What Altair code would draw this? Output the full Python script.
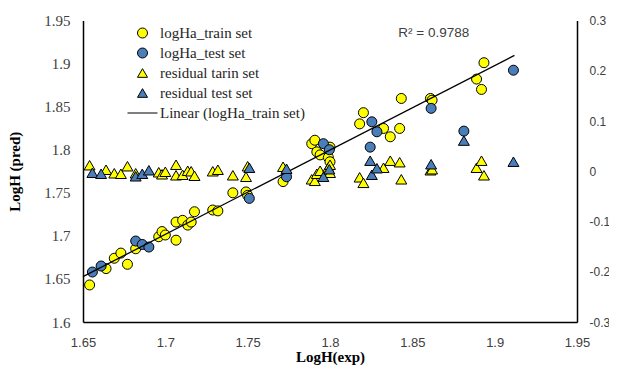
import altair as alt
import pandas as pd

# ---- data ----
train_x = [1.654, 1.664, 1.669, 1.673, 1.677, 1.682, 1.696, 1.698, 1.700, 1.7065,
           1.7065, 1.7105, 1.7136, 1.7157, 1.7177, 1.7288, 1.7319, 1.741, 1.749, 1.750,
           1.7715, 1.7889, 1.7908, 1.792, 1.794, 1.799, 1.800, 1.800, 1.818, 1.8203,
           1.8325, 1.8366, 1.8423, 1.8433, 1.861, 1.862, 1.889, 1.892, 1.8935]
train_pred = [1.643, 1.662, 1.674, 1.680, 1.667, 1.685, 1.699, 1.705, 1.701, 1.695,
              1.716, 1.718, 1.7125, 1.716, 1.728, 1.730, 1.729, 1.750, 1.751, 1.747,
              1.763, 1.807, 1.811, 1.7975, 1.794, 1.791, 1.803, 1.786, 1.830, 1.843,
              1.8247, 1.815, 1.8247, 1.8595, 1.8595, 1.8575, 1.882, 1.870, 1.901]
train_res = [0.012, 0.003, -0.004, -0.005, 0.010, -0.004, -0.002, -0.006, -0.001, 0.013,
             -0.008, -0.007, 0.001, 0.000, -0.009, 0.000, 0.003, -0.008, -0.011, 0.010,
             0.009, -0.016, -0.019, -0.005, 0.001, 0.008, -0.003, 0.013, -0.012, -0.023,
             0.007, 0.021, 0.018, -0.016, 0.002, 0.004, 0.007, 0.021, -0.008]

test_x = [1.6557, 1.661, 1.682, 1.686, 1.690, 1.751, 1.7736, 1.796, 1.7996, 1.8244,
          1.8254, 1.8285, 1.8614, 1.8813, 1.9114]
test_pred = [1.658, 1.665, 1.694, 1.690, 1.687, 1.7435, 1.7686, 1.807, 1.800, 1.803,
             1.8324, 1.8208, 1.848, 1.8216, 1.8923]
test_res = [-0.003, -0.005, -0.010, -0.005, 0.002, 0.007, 0.005, -0.011, 0.004, 0.021,
            -0.007, 0.006, 0.014, 0.061, 0.019]

series_names = ["logHa_train set", "logHa_test set", "residual tarin set",
                "residual test set", "Linear (logHa_train set)"]
series_colors = ["#ffff00", "#4a7ebb", "#ffff00", "#4a7ebb", "#000000"]
series_edges = ["#000000", "#000000", "#000000", "#000000", "#000000"]
series_shapes = ["circle", "circle", "triangle-up", "triangle-up", "M-3,0H3"]

x_ticks = [1.65, 1.7, 1.75, 1.8, 1.85, 1.9, 1.95]
y_ticks = [1.6, 1.65, 1.7, 1.75, 1.8, 1.85, 1.9, 1.95]
res_ticks = [-0.3, -0.2, -0.1, 0, 0.1, 0.2, 0.3]
trend_extent = [1.65, 1.912]
r2_text = "R² = 0.9788"
r2_pos = [1.863, 1.9355]

# ---- tables ----
circles = pd.concat([
    pd.DataFrame({"x": train_x, "pred": train_pred, "series": series_names[0]}),
    pd.DataFrame({"x": test_x, "pred": test_pred, "series": series_names[1]}),
])
triangles = pd.concat([
    pd.DataFrame({"x": train_x, "res": train_res, "series": series_names[2]}),
    pd.DataFrame({"x": test_x, "res": test_res, "series": series_names[3]}),
])
train_df = pd.DataFrame({"x": train_x, "pred": train_pred})
r2_df = pd.DataFrame({"x": [r2_pos[0]], "pred": [r2_pos[1]], "label": [r2_text]})

SERIF = "Liberation Serif"
SANS = "Liberation Sans"

x_enc = alt.X("x:Q",
              scale=alt.Scale(domain=[1.65, 1.95], nice=False, zero=False),
              axis=alt.Axis(values=x_ticks, format=".2~f", title="LogH(exp)",
                            labelFont=SANS, labelFontSize=13, labelColor="#404040",
                            labelPadding=14, labelFlush=False, labelOverlap=False,
                            titleFont=SERIF, titleFontSize=15, titleFontWeight="bold",
                            titleColor="black", titleBaseline="alphabetic", titleY=39))
y_left = alt.Y("pred:Q",
               scale=alt.Scale(domain=[1.6, 1.95], nice=False, zero=False),
               axis=alt.Axis(values=y_ticks, format=".2~f", title="LogH (pred)",
                             labelFont=SERIF, labelFontSize=15, labelColor="#404040",
                             labelPadding=13, labelOverlap=False, labelFlush=False,
                             titleFont=SERIF, titleFontSize=15, titleFontWeight="bold",
                             titleColor="black", titlePadding=21))
y_right = alt.Y("res:Q",
                scale=alt.Scale(domain=[-0.3, 0.3], nice=False, zero=False),
                axis=alt.Axis(orient="right", values=res_ticks, title=None,
                              labelExpr="replace(format(datum.value, '.1~f'), '\u2212', '-')",
                              labelFont=SANS, labelFontSize=12, labelColor="#404040",
                              labelPadding=12, labelOverlap=False, labelFlush=False))

legend = alt.Legend(orient="none", legendX=52, legendY=5, padding=0,
                    labelFont=SERIF, labelFontSize=15, labelColor="#262626",
                    symbolSize=100, symbolStrokeWidth=1,
                    labelOffset=10, rowPadding=4)
fill_enc = alt.Fill("series:N", title=None,
                    scale=alt.Scale(domain=series_names, range=series_colors),
                    legend=legend)
stroke_enc = alt.Stroke("series:N", title=None,
                        scale=alt.Scale(domain=series_names, range=series_edges),
                        legend=legend)
shape_enc = alt.Shape("series:N", title=None,
                      scale=alt.Scale(domain=series_names, range=series_shapes),
                      legend=legend)

circle_layer = alt.Chart(circles).mark_point(
    filled=True, size=100, strokeWidth=1, opacity=1
).encode(x=x_enc, y=y_left, fill=fill_enc, stroke=stroke_enc, shape=shape_enc)

line_layer = alt.Chart(train_df).transform_regression(
    "x", "pred", extent=trend_extent
).transform_calculate(
    series="'Linear (logHa_train set)'"
).mark_line(strokeWidth=1.3).encode(x=x_enc, y=y_left, stroke=stroke_enc)

r2_layer = alt.Chart(r2_df).mark_text(
    font=SANS, fontSize=13.5, color="#404040", align="center", baseline="middle"
).encode(x=x_enc, y=y_left, text="label:N")

tri_layer = alt.Chart(triangles).mark_point(
    filled=True, size=120, strokeWidth=1, opacity=1
).encode(x=x_enc, y=y_right, fill=fill_enc, stroke=stroke_enc, shape=shape_enc)

inner = alt.layer(circle_layer, line_layer, r2_layer)
chart = alt.layer(inner, tri_layer).resolve_scale(
    y="independent"
).properties(
    width=494, height=301.5,
    padding={"left": 75, "top": 12.5, "right": 32, "bottom": 43},
    autosize=alt.AutoSizeParams(type="none"),
).configure_view(strokeWidth=0).configure_axis(
    domainColor="black", domainWidth=1.5, ticks=False, tickSize=0, grid=False
)

chart.save("out.html", embed_options={"renderer": "svg", "actions": False})
